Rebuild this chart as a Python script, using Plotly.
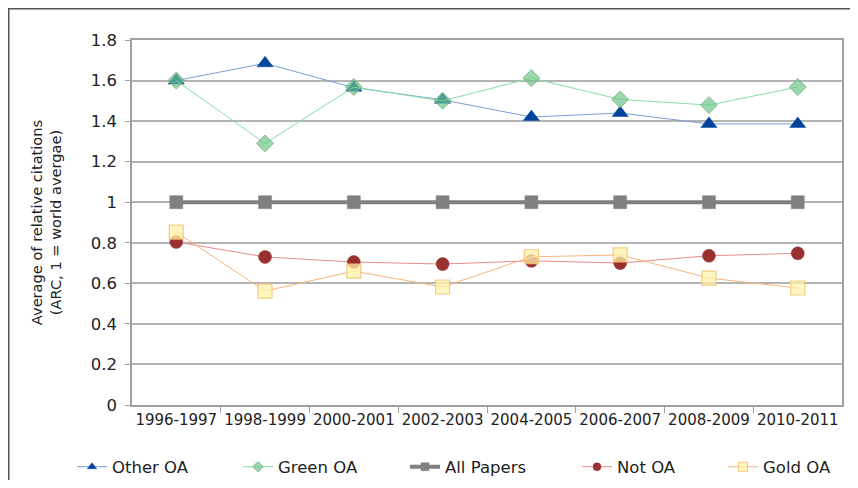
import plotly.graph_objects as go

periods = ["1996-1997", "1998-1999", "2000-2001", "2002-2003",
           "2004-2005", "2006-2007", "2008-2009", "2010-2011"]
other_oa = [1.60, 1.685, 1.565, 1.505, 1.42, 1.44, 1.386, 1.386]
green_oa = [1.60, 1.29, 1.568, 1.50, 1.612, 1.507, 1.479, 1.568]
all_papers = [1, 1, 1, 1, 1, 1, 1, 1]
not_oa = [0.804, 0.73, 0.705, 0.695, 0.711, 0.70, 0.736, 0.748]
gold_oa = [0.853, 0.562, 0.66, 0.582, 0.731, 0.74, 0.626, 0.577]

series = [
    dict(name="Other OA", y=other_oa, line=dict(color="#7a9fd6", width=1),
         marker=dict(symbol="triangle-up", size=14, color="#00449e",
                     line=dict(color="#00449e", width=0.5)), lmsize=8),
    dict(name="Green OA", y=green_oa, line=dict(color="#86dca6", width=1),
         marker=dict(symbol="diamond", size=13, color="rgba(110,200,140,0.7)",
                     line=dict(color="rgba(130,170,120,0.8)", width=1)), lmsize=8),
    dict(name="All Papers", y=all_papers, line=dict(color="#808080", width=4),
         marker=dict(symbol="square", size=13, color="#808080",
                     line=dict(color="#808080", width=0.5)), lmsize=8),
    dict(name="Not OA", y=not_oa, line=dict(color="#e88a8a", width=1),
         marker=dict(symbol="circle", size=13, color="#993131",
                     line=dict(color="#993131", width=0.5)), lmsize=8),
    dict(name="Gold OA", y=gold_oa, line=dict(color="#f7b57c", width=1),
         marker=dict(symbol="square", size=14, color="rgba(255,244,170,0.75)",
                     line=dict(color="rgba(246,196,120,0.9)", width=1.2)), lmsize=9),
]

# figure is 842x472 so that with the page's 8px body margin it fills 858x488
W, H = 842, 472
ML, MR, MT, MB = 124, 8, 32, 75
PW, PH = W - ML - MR, H - MT - MB
legend_left_px = [64, 230, 397, 569, 715]

fig = go.Figure()
for s in series:
    fig.add_trace(go.Scatter(x=periods, y=s["y"], mode="lines+markers",
                             name=s["name"], line=s["line"], marker=s["marker"],
                             showlegend=False))
legend_layout = {}
for i, s in enumerate(series):
    key = "legend" if i == 0 else f"legend{i + 1}"
    m = dict(s["marker"])
    m["size"] = s["lmsize"]
    fig.add_trace(go.Scatter(x=[None], y=[None], mode="lines+markers",
                             name=s["name"], line=s["line"], marker=m,
                             showlegend=True, legend=key))
    legend_layout[key] = dict(orientation="h", x=(legend_left_px[i] - ML) / PW,
                              xanchor="left", y=(MT + PH - 459) / PH, yanchor="middle",
                              font=dict(size=16.5, color="#222222"),
                              bgcolor="rgba(0,0,0,0)")

font = "Verdana, DejaVu Sans, sans-serif"
fig.update_layout(
    width=W, height=H,
    margin=dict(l=ML, r=MR, t=MT, b=MB, autoexpand=False),
    paper_bgcolor="white", plot_bgcolor="white",
    font=dict(family=font, size=14, color="#222222"),
    showlegend=True,
    xaxis=dict(type="category", showgrid=False, showline=True, linecolor="#a0a0a0",
               linewidth=1.5, mirror=True, ticks="outside", ticklen=6,
               tickcolor="#a0a0a0", tickson="boundaries", automargin=False,
               tickangle=0, tickfont=dict(size=15, color="#222222")),
    yaxis=dict(range=[0, 1.8], dtick=0.2, tick0=0, showgrid=True, gridcolor="#b4b4b4",
               gridwidth=1.5, showline=True, linecolor="#a0a0a0", linewidth=1.5,
               mirror=True, ticks="outside", ticklen=5, tickcolor="#a0a0a0",
               tickformat="~g", zeroline=False, automargin=False,
               ticklabelstandoff=5,
               tickfont=dict(size=16.5, color="#222222"),
               title=dict(text="Average of relative citations<br>(ARC, 1 = world avergae)",
                          font=dict(size=14.6, color="#222222"), standoff=26)),
    shapes=[dict(type="rect", xref="paper", yref="paper",
                 x0=(0.75 - ML) / PW, x1=(W + 20 - ML) / PW,
                 y0=(MT + PH - H - 20) / PH, y1=(MT + PH - 0.75) / PH,
                 line=dict(color="#555555", width=1.5), fillcolor="rgba(0,0,0,0)",
                 layer="below")],
    **legend_layout,
)
fig.write_html("out.html")
